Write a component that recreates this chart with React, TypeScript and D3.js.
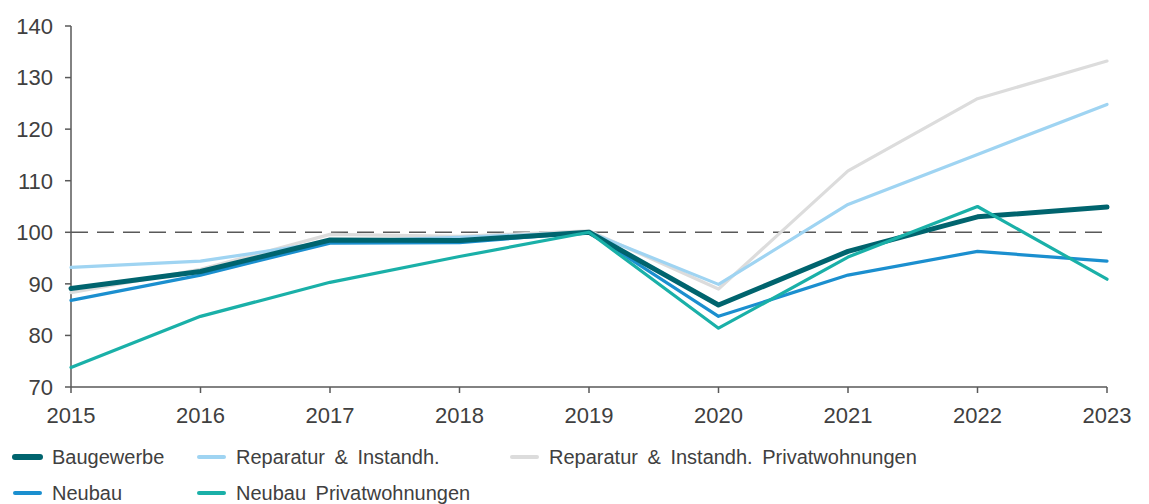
import React, { useEffect, useRef } from "react";
import * as d3 from "d3";

const years = ["2015", "2016", "2017", "2018", "2019", "2020", "2021", "2022", "2023"];
const yTicks = [70, 80, 90, 100, 110, 120, 130, 140];

const baugewerbe = [89.1, 92.4, 98.5, 98.4, 100, 85.9, 96.3, 103.0, 104.9];
const reparatur = [93.2, 94.4, 98.2, 99.0, 100, 89.9, 105.4, 115.1, 124.8];
const reparaturPriv = [88.3, 92.8, 99.6, 99.2, 100.3, 89.0, 111.9, 125.9, 133.2];
const neubau = [86.8, 91.7, 97.9, 98.0, 100, 83.7, 91.7, 96.3, 94.4];
const neubauPriv = [73.8, 83.7, 90.3, 95.3, 100, 81.4, 95.2, 105.0, 90.9];

const seriesNames = [
  "Baugewerbe",
  "Reparatur & Instandh.",
  "Reparatur & Instandh. Privatwohnungen",
  "Neubau",
  "Neubau Privatwohnungen",
];
const seriesValues = [baugewerbe, reparatur, reparaturPriv, neubau, neubauPriv];
const seriesColors = ["#00646e", "#9fd4f2", "#dcdcdc", "#1b8fcf", "#1ab0a8"];
const seriesWidths = [5, 3.2, 3.2, 3.2, 3.2];
const drawOrder = [2, 1, 3, 0, 4];

export default function App() {
  const ref = useRef<SVGSVGElement>(null);

  useEffect(() => {
    const svg = d3.select(ref.current);
    svg.selectAll("*").remove();
    const font = "'Liberation Sans', Arial, sans-serif";
    const axisColor = "#595959";
    const textColor = "#404040";

    const x = d3.scalePoint<string>().domain(years).range([71, 1107]);
    const y = d3.scaleLinear().domain([70, 140]).range([387, 26]);

    // y axis
    const yAxis = svg.append("g");
    yAxis.append("line").attr("x1", 71).attr("x2", 71).attr("y1", y(140)).attr("y2", y(70))
      .attr("stroke", axisColor).attr("stroke-width", 1.5);
    yTicks.forEach((t) => {
      yAxis.append("line").attr("x1", 65).attr("x2", 71).attr("y1", y(t)).attr("y2", y(t))
        .attr("stroke", axisColor).attr("stroke-width", 1.5);
      yAxis.append("text").attr("x", 53).attr("y", y(t)).attr("dy", "0.36em")
        .attr("text-anchor", "end").attr("font-family", font).attr("font-size", 22)
        .attr("fill", textColor).text(String(t));
    });

    // x axis
    const xAxis = svg.append("g");
    xAxis.append("line").attr("x1", x(years[0])!).attr("x2", x(years[years.length - 1])!)
      .attr("y1", y(70)).attr("y2", y(70)).attr("stroke", axisColor).attr("stroke-width", 1.5);
    years.forEach((yr) => {
      xAxis.append("line").attr("x1", x(yr)!).attr("x2", x(yr)!).attr("y1", y(70)).attr("y2", y(70) + 6)
        .attr("stroke", axisColor).attr("stroke-width", 1.5);
      xAxis.append("text").attr("x", x(yr)!).attr("y", 423)
        .attr("text-anchor", "middle").attr("font-family", font).attr("font-size", 22)
        .attr("fill", textColor).text(yr);
    });

    // reference line at 100
    svg.append("line").attr("x1", x(years[0])!).attr("x2", x(years[years.length - 1])!)
      .attr("y1", y(100)).attr("y2", y(100)).attr("stroke", axisColor).attr("stroke-width", 1.6)
      .attr("stroke-dasharray", "17,9");

    const line = d3.line<number>().x((_, i) => x(years[i])!).y((d) => y(d));
    drawOrder.forEach((s) => {
      svg.append("path").attr("d", line(seriesValues[s])!).attr("fill", "none")
        .attr("stroke", seriesColors[s]).attr("stroke-width", seriesWidths[s])
        .attr("stroke-linejoin", "round").attr("stroke-linecap", "round");
    });

    // legend
    const legendPos = [
      [13, 457], [197, 457], [510, 457], [13, 493], [197, 493],
    ];
    seriesNames.forEach((name, i) => {
      const [lx, ly] = legendPos[i];
      const g = svg.append("g");
      g.append("line").attr("x1", lx + 2).attr("x2", lx + 27).attr("y1", ly).attr("y2", ly)
        .attr("stroke", seriesColors[i]).attr("stroke-width", i === 0 ? 6 : 4)
        .attr("stroke-linecap", "round");
      g.append("text").attr("x", lx + 39).attr("y", ly).attr("dy", "0.36em")
        .attr("font-family", font).attr("font-size", 20).attr("fill", textColor)
        .attr("word-spacing", 4).text(name);
    });
  }, []);

  return (
    <svg ref={ref} width={1149} height={504}
      style={{ position: "absolute", left: 0, top: 0, background: "#fff" }} />
  );
}
